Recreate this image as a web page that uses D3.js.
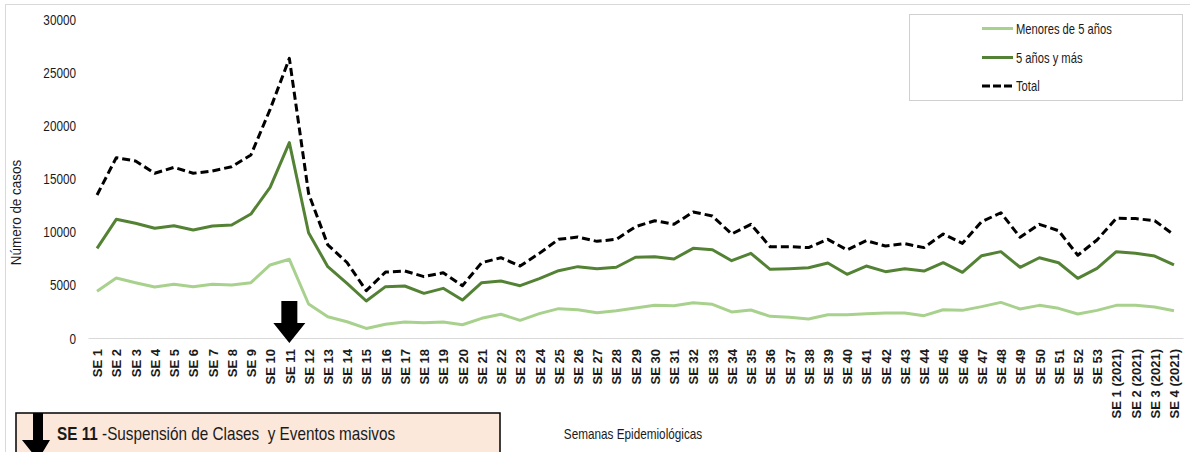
<!DOCTYPE html>
<html>
<head>
<meta charset="utf-8">
<script src="https://cdn.jsdelivr.net/npm/d3@7/dist/d3.min.js"></script>
<style>
  html, body { margin: 0; padding: 0; background: #ffffff; }
  svg { display: block; }
  text { font-family: "Liberation Sans", Arial, sans-serif; fill: #1a1a1a; }
</style>
</head>
<body>
<svg id="chart" width="1190" height="452"></svg>
<script>
// ---------------- DATA ----------------
const categories = [
  "SE 1","SE 2","SE 3","SE 4","SE 5","SE 6","SE 7","SE 8","SE 9","SE 10",
  "SE 11","SE 12","SE 13","SE 14","SE 15","SE 16","SE 17","SE 18","SE 19","SE 20",
  "SE 21","SE 22","SE 23","SE 24","SE 25","SE 26","SE 27","SE 28","SE 29","SE 30",
  "SE 31","SE 32","SE 33","SE 34","SE 35","SE 36","SE 37","SE 38","SE 39","SE 40",
  "SE 41","SE 42","SE 43","SE 44","SE 45","SE 46","SE 47","SE 48","SE 49","SE 50",
  "SE 51","SE 52","SE 53","SE 1 (2021)","SE 2 (2021)","SE 3 (2021)","SE 4 (2021)"
];

const menores5 = [
  4400, 5640, 5200, 4790, 5050, 4830, 5050, 4980, 5200, 6870,
  7400, 3200, 2000, 1530, 900, 1300, 1500, 1440, 1500, 1250,
  1850, 2230, 1660, 2290, 2760, 2660, 2380, 2570, 2820, 3070,
  3040, 3320, 3170, 2450, 2630, 2040, 1950, 1790, 2190, 2190,
  2290, 2350, 2350, 2100, 2660, 2600, 2950, 3350, 2730, 3070,
  2790, 2260, 2600, 3070, 3070, 2920, 2570
];

const mayores5 = [
  8430, 11160, 10790, 10320, 10560, 10160, 10530, 10630, 11660, 14170,
  18370, 9900, 6710, 5140, 3480, 4830, 4890, 4200, 4670, 3570,
  5200, 5360, 4920, 5580, 6330, 6710, 6520, 6650, 7590, 7650,
  7430, 8430, 8300, 7270, 7960, 6460, 6520, 6610, 7050, 5990,
  6770, 6240, 6520, 6300, 7080, 6180, 7740, 8120, 6650, 7550,
  7080, 5610, 6550, 8120, 7960, 7710, 6870
];

const total = [
  13450, 16960, 16650, 15490, 16050, 15490, 15710, 16110, 17210, 21500,
  26300, 13600, 8750, 7100, 4450, 6200, 6300, 5770, 6140, 4920,
  7080, 7550, 6770, 7960, 9280, 9500, 9090, 9280, 10470, 11030,
  10690, 11850, 11470, 9780, 10690, 8590, 8590, 8500, 9280, 8280,
  9150, 8650, 8870, 8500, 9780, 8900, 10940, 11780, 9470, 10690,
  10090, 7780, 9220, 11260, 11230, 11030, 9690
];

const yTicks = [0, 5000, 10000, 15000, 20000, 25000, 30000];

const seriesNames = ["Menores de 5 años", "5 años y más", "Total"];
const markedWeek = "SE 11";
const noteBold = "SE 11";
const noteText = " -Suspensión de Clases  y Eventos masivos";
const xTitle = "Semanas Epidemiológicas";
const yTitle = "Número de casos";

// ---------------- CHART ----------------
const svg = d3.select("#chart");
const NARROW = 0.84;

const x = d3.scalePoint().domain(categories).range([88, 1183]).padding(0.47);
const y = d3.scaleLinear().domain([0, 30000]).range([338, 19]);

// outer border
svg.append("rect")
  .attr("x", 5.5).attr("y", 4.5).attr("width", 1300).attr("height", 600)
  .attr("fill", "none").attr("stroke", "#d9d9d9").attr("stroke-width", 1);

// Y axis (labels only)
const yAxis = svg.append("g")
  .attr("transform", "translate(88,0)")
  .call(d3.axisLeft(y).tickValues(yTicks).tickSize(0).tickPadding(12).tickFormat(d3.format("d")));
yAxis.select(".domain").remove();
yAxis.selectAll("text")
  .attr("font-family", "Liberation Sans, Arial, sans-serif")
  .attr("font-size", 14)
  .attr("fill", "#262626")
  .attr("x", -12 / NARROW)
  .attr("dy", "0.36em")
  .attr("transform", `scale(${NARROW},1)`);

// X axis
const xAxis = svg.append("g")
  .attr("transform", `translate(0,${y(0)})`)
  .call(d3.axisBottom(x).tickSize(0).tickSizeOuter(0));
xAxis.select(".domain").attr("stroke", "#d9d9d9").attr("stroke-width", 1.2);
xAxis.selectAll("text")
  .attr("font-family", "Liberation Sans, Arial, sans-serif")
  .attr("font-size", 13)
  .attr("font-weight", "bold")
  .attr("fill", "#1a1a1a")
  .attr("text-anchor", "end")
  .attr("transform", "rotate(-90)")
  .attr("x", -11)
  .attr("y", 0)
  .attr("dy", "0.36em");

// Y title
svg.append("text")
  .attr("transform", `translate(21,${(y(0) + y(30000)) / 2 + 34}) rotate(-90) scale(0.96,1)`)
  .attr("text-anchor", "middle")
  .attr("font-size", 14)
  .attr("fill", "#262626")
  .text(yTitle);

// X title
svg.append("text")
  .attr("transform", `translate(633,439) scale(${NARROW},1)`)
  .attr("text-anchor", "middle")
  .attr("font-size", 14)
  .attr("fill", "#262626")
  .text(xTitle);

// lines
const line = d3.line().x((d, i) => x(categories[i])).y(d => y(d));
const colors = ["#a9d18e", "#548235", "#000000"];

svg.append("path").datum(menores5)
  .attr("d", line).attr("fill", "none")
  .attr("stroke", colors[0]).attr("stroke-width", 3).attr("stroke-linejoin", "round");
svg.append("path").datum(mayores5)
  .attr("d", line).attr("fill", "none")
  .attr("stroke", colors[1]).attr("stroke-width", 3).attr("stroke-linejoin", "round");
svg.append("path").datum(total)
  .attr("d", line).attr("fill", "none")
  .attr("stroke", colors[2]).attr("stroke-width", 3).attr("stroke-dasharray", "8,4")
  .attr("stroke-linejoin", "round");

// arrow at marked week
const ax = x(markedWeek), a0 = y(0);
svg.append("path")
  .attr("d", `M${ax - 8},${a0 - 37} L${ax + 8},${a0 - 37} L${ax + 8},${a0 - 15} L${ax + 16},${a0 - 15} L${ax},${a0 + 5} L${ax - 16},${a0 - 15} L${ax - 8},${a0 - 15} Z`)
  .attr("fill", "#000");

// legend
const lg = svg.append("g");
lg.append("rect")
  .attr("x", 909.5).attr("y", 14.5).attr("width", 273).attr("height", 86)
  .attr("fill", "#fff").attr("stroke", "#d0d0d0").attr("stroke-width", 1);
const legendRows = [28.5, 57.5, 86];
seriesNames.forEach((name, i) => {
  lg.append("line")
    .attr("x1", 982).attr("x2", 1013)
    .attr("y1", legendRows[i]).attr("y2", legendRows[i])
    .attr("stroke", colors[i]).attr("stroke-width", 3)
    .attr("stroke-dasharray", i === 2 ? "8,3" : null);
  lg.append("text")
    .attr("transform", `translate(1016,${legendRows[i]}) scale(0.8,1)`)
    .attr("dy", "0.36em")
    .attr("font-size", 14)
    .attr("fill", "#262626")
    .text(name);
});

// annotation box
const nb = svg.append("g");
nb.append("rect")
  .attr("x", 16).attr("y", 413).attr("width", 484).attr("height", 80)
  .attr("fill", "#fce8da").attr("stroke", "#000").attr("stroke-width", 1.5);
nb.append("path")
  .attr("d", "M33,413 L43,413 L43,440 L50,440 L38,460 L22,440 L33,440 Z")
  .attr("fill", "#000");
const nt = nb.append("text")
  .attr("transform", `translate(57,440) scale(0.85,1)`)
  .attr("font-size", 18)
  .attr("fill", "#000")
  .style("white-space", "pre");
nt.append("tspan").attr("font-weight", "bold").text(noteBold);
nt.append("tspan").style("white-space", "pre").text(noteText);
</script>
</body>
</html>
